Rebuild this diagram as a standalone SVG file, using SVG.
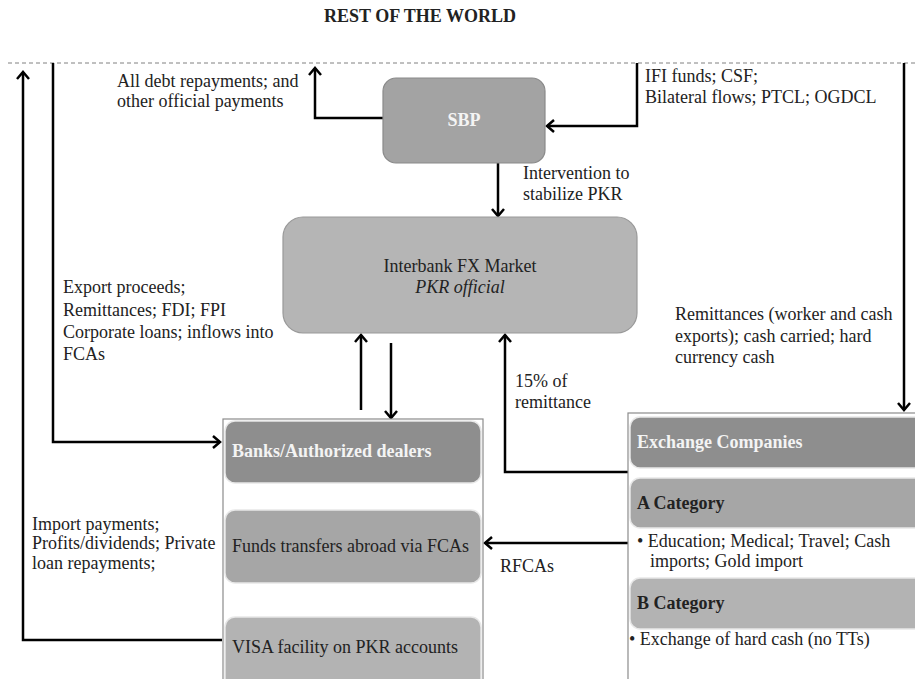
<svg xmlns="http://www.w3.org/2000/svg" width="915" height="679" viewBox="0 0 915 679">
<style>
  text { font-family: "Liberation Serif", "Times New Roman", serif; font-size: 18px; fill: #222; }
  .b { font-weight: bold; }
  .w { fill: #f4f4f4; font-weight: bold; }
  .conn { fill: none; stroke: #000; stroke-width: 2.5; marker-end: url(#arr); }
  .outer { fill: #fff; stroke: #8c8c8c; stroke-width: 1.2; }
  .bar { stroke: #e8e8e8; stroke-width: 1.5; }
  .d1 { fill: #8e8e8e; }
  .d2 { fill: #a6a6a6; }
  .d3 { fill: #b3b3b3; }
</style>
<defs>
  <marker id="arr" markerUnits="userSpaceOnUse" markerWidth="20" markerHeight="20" refX="0" refY="0" viewBox="-10 -10 20 20" orient="auto">
    <path d="M-7,-6 L0,0 L-7,6" fill="none" stroke="#000" stroke-width="2.5"/>
  </marker>
</defs>
<rect width="915" height="679" fill="#fff"/>
<text id="title" class="b" x="420" y="22" text-anchor="middle" font-size="16">REST OF THE WORLD</text>
<path d="M8,63 H915" stroke="#808080" stroke-width="1" stroke-dasharray="4 3" fill="none"/>

<g id="connectors">
  <path class="conn" d="M222,640 H23 V72"/>
  <path class="conn" d="M53,63 V442 H220"/>
  <path class="conn" d="M383,118 H315 V68"/>
  <path class="conn" d="M637,63 V126 H547"/>
  <path class="conn" d="M904,63 V410"/>
  <path class="conn" d="M498,163 V216"/>
  <path class="conn" d="M361,410 V335"/>
  <path class="conn" d="M391,343 V418"/>
  <path class="conn" d="M629,472 H505 V335"/>
  <path class="conn" d="M628,543 H485"/>
</g>

<g id="labels">
  <text x="117" y="87">All debt repayments; and</text>
  <text x="117" y="107">other official payments</text>
  <text x="645" y="82">IFI funds; CSF;</text>
  <text x="645" y="103">Bilateral flows; PTCL; OGDCL</text>
  <text x="523" y="179">Intervention to</text>
  <text x="523" y="200">stabilize PKR</text>
  <text x="63" y="293">Export proceeds;</text>
  <text x="63" y="316">Remittances; FDI; FPI</text>
  <text x="63" y="338">Corporate loans; inflows into</text>
  <text x="63" y="360">FCAs</text>
  <text x="675" y="320">Remittances (worker and cash</text>
  <text x="675" y="342">exports); cash carried; hard</text>
  <text x="675" y="363">currency cash</text>
  <text x="515" y="387">15% of</text>
  <text x="515" y="408">remittance</text>
  <text x="32" y="530">Import payments;</text>
  <text x="32" y="549">Profits/dividends; Private</text>
  <text x="32" y="569">loan repayments;</text>
  <text x="500" y="572">RFCAs</text>
</g>

<g id="sbp">
  <rect x="383" y="78" width="162" height="85" rx="13" fill="#a3a3a3" stroke="#8a8a8a" stroke-width="1.2"/>
  <text class="w" x="464" y="126" text-anchor="middle">SBP</text>
</g>

<g id="interbank">
  <rect x="283" y="217" width="354" height="116" rx="20" fill="#b5b5b5" stroke="#999" stroke-width="1.2"/>
  <text x="460" y="272" text-anchor="middle">Interbank FX Market</text>
  <text x="460" y="293" text-anchor="middle" font-style="italic">PKR official</text>
</g>

<g id="banks">
  <rect class="outer" x="223" y="419" width="260" height="275"/>
  <rect class="bar d1" x="225" y="421" width="256" height="62" rx="10"/>
  <text class="w" x="232" y="457">Banks/Authorized dealers</text>
  <rect class="bar d2" x="225" y="510" width="256" height="73" rx="10"/>
  <text x="232" y="552">Funds transfers abroad via FCAs</text>
  <rect class="bar d3" x="225" y="617" width="256" height="75" rx="10"/>
  <text x="232" y="653">VISA facility on PKR accounts</text>
</g>

<g id="exchange">
  <rect class="outer" x="628" y="413" width="300" height="280"/>
  <rect class="bar d1" x="630" y="417" width="300" height="51" rx="10"/>
  <text class="w" x="637" y="448">Exchange Companies</text>
  <rect class="bar d2" x="630" y="478" width="300" height="50" rx="10"/>
  <text class="b" x="637" y="509">A  Category</text>
  <text x="637" y="547">• Education; Medical; Travel; Cash</text>
  <text x="650" y="567">imports; Gold import</text>
  <rect class="bar d3" x="630" y="578" width="300" height="51" rx="10"/>
  <text class="b" x="637" y="609">B Category</text>
  <text x="629" y="645">• Exchange of hard cash (no TTs)</text>
</g>
</svg>
